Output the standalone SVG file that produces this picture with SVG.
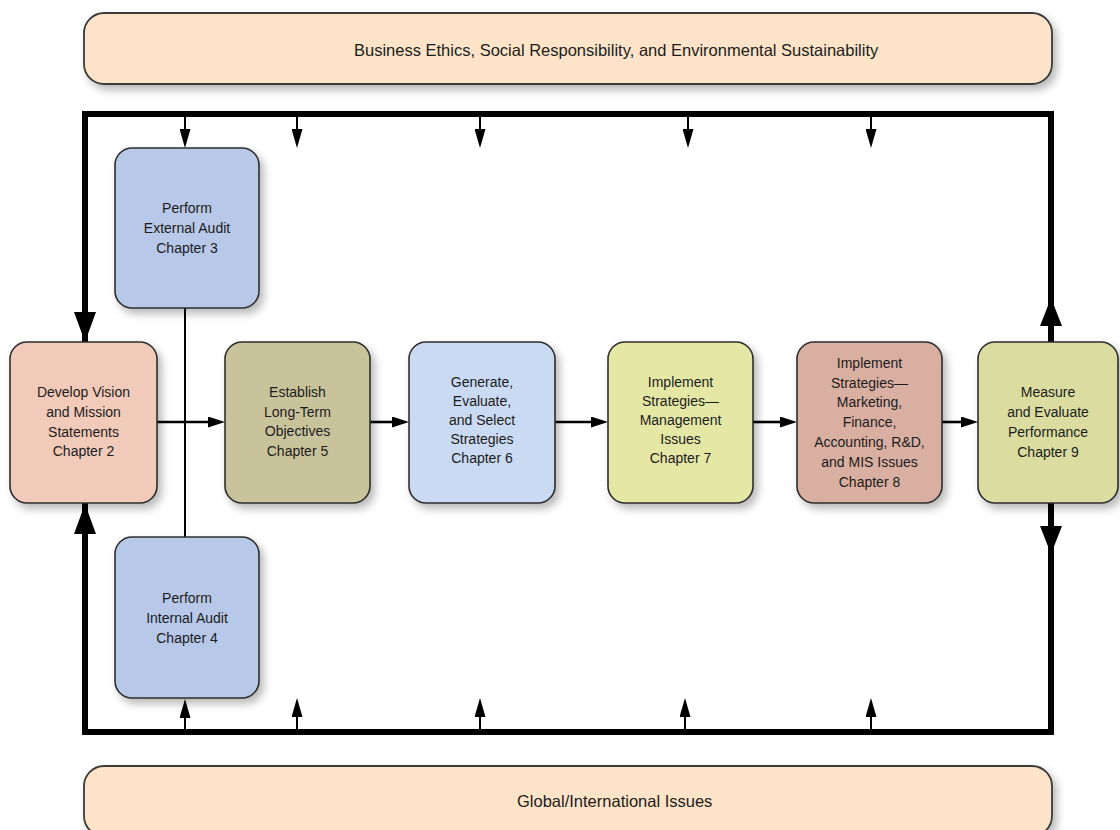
<svg xmlns="http://www.w3.org/2000/svg" width="1120" height="830" viewBox="0 0 1120 830">
<style>
.box{stroke:#2e2e2e;stroke-width:1.6;filter:url(#sh)}
.banner{fill:#FDE3C7;stroke:#3a3a3a;stroke-width:1.8;filter:url(#sh)}
.t{font-family:"Liberation Sans",Arial,sans-serif;font-size:14px;fill:#1c1c1c;text-anchor:middle}
.bt{font-family:"Liberation Sans",Arial,sans-serif;font-size:16.5px;fill:#1c1c1c}
.frame{fill:none;stroke:#000;stroke-width:6;stroke-linejoin:miter;stroke-linecap:square}
.sm{fill:none;stroke:#000;stroke-width:2}
.flow{fill:none;stroke:#000;stroke-width:2.6}
.aud{fill:none;stroke:#000;stroke-width:2}
.big{fill:#000}
</style>
<defs>
<filter id="sh" x="-10%" y="-10%" width="125%" height="130%">
<feDropShadow dx="4" dy="5" stdDeviation="4" flood-color="#000" flood-opacity="0.28"/>
</filter>
<marker id="ms" markerUnits="userSpaceOnUse" markerWidth="19" markerHeight="11" viewBox="0 0 19 11" refX="0" refY="5.5" orient="auto">
<path d="M0,0 L19,5.5 L0,11 Z" fill="#000"/>
</marker>
<marker id="mf" markerUnits="userSpaceOnUse" markerWidth="17" markerHeight="11" viewBox="0 0 17 11" refX="0" refY="5.5" orient="auto">
<path d="M0,0 L17,5.5 L0,11 Z" fill="#000"/>
</marker>
</defs>
<rect width="1120" height="830" fill="#fff"/>

<g id="banner-top">
<rect class="banner" x="84" y="13" width="968" height="71" rx="20"/>
<text class="bt" x="354" y="56">Business Ethics, Social Responsibility, and Environmental Sustainability</text>
</g>
<g id="banner-bottom">
<rect class="banner" x="84" y="766" width="968" height="70" rx="20"/>
<text class="bt" x="517" y="807">Global/International Issues</text>
</g>

<g id="connectors">
<path class="frame" d="M85,341 V114 H1051 V342"/>
<path class="frame" d="M85,504 V732 H1051 V503"/>
<polygon class="big" points="74,312 96,312 85,342"/>
<polygon class="big" points="74,534 96,534 85,504"/>
<polygon class="big" points="1040,326 1062,326 1051,298"/>
<polygon class="big" points="1040,526 1062,526 1051,554"/>
<path class="sm" d="M185,115 V129" marker-end="url(#ms)"/>
<path class="sm" d="M297,115 V129" marker-end="url(#ms)"/>
<path class="sm" d="M480,115 V129" marker-end="url(#ms)"/>
<path class="sm" d="M688,115 V129" marker-end="url(#ms)"/>
<path class="sm" d="M871,115 V129" marker-end="url(#ms)"/>
<path class="sm" d="M185,731 V718" marker-end="url(#ms)"/>
<path class="sm" d="M297,731 V717" marker-end="url(#ms)"/>
<path class="sm" d="M480,731 V717" marker-end="url(#ms)"/>
<path class="sm" d="M685,731 V717" marker-end="url(#ms)"/>
<path class="sm" d="M871,731 V717" marker-end="url(#ms)"/>
<path class="aud" d="M185,308 V537"/>
<path class="flow" d="M157,422 H208" marker-end="url(#mf)"/>
<path class="flow" d="M370,422 H392" marker-end="url(#mf)"/>
<path class="flow" d="M555,422 H591" marker-end="url(#mf)"/>
<path class="flow" d="M753,422 H780" marker-end="url(#mf)"/>
<path class="flow" d="M942,422 H961" marker-end="url(#mf)"/>
</g>

<g id="external-audit">
<rect class="box" x="115" y="148" width="144" height="160" rx="17" fill="#B7C8E8"/>
<text class="t"><tspan x="187" y="213">Perform</tspan><tspan x="187" y="233">External Audit</tspan><tspan x="187" y="253">Chapter 3</tspan></text>
</g>
<g id="internal-audit">
<rect class="box" x="115" y="537" width="144" height="161" rx="17" fill="#B7C8E8"/>
<text class="t"><tspan x="187" y="603">Perform</tspan><tspan x="187" y="623">Internal Audit</tspan><tspan x="187" y="643">Chapter 4</tspan></text>
</g>
<g id="develop-vision">
<rect class="box" x="10" y="342" width="147" height="161" rx="17" fill="#F2CAB9"/>
<text class="t"><tspan x="83.5" y="397">Develop Vision</tspan><tspan x="83.5" y="417">and Mission</tspan><tspan x="83.5" y="437">Statements</tspan><tspan x="83.5" y="456">Chapter 2</tspan></text>
</g>
<g id="establish-objectives">
<rect class="box" x="225" y="342" width="145" height="161" rx="17" fill="#C9C39C"/>
<text class="t"><tspan x="297.5" y="397">Establish</tspan><tspan x="297.5" y="417">Long-Term</tspan><tspan x="297.5" y="436">Objectives</tspan><tspan x="297.5" y="456">Chapter 5</tspan></text>
</g>
<g id="generate-strategies">
<rect class="box" x="409" y="342" width="146" height="161" rx="17" fill="#C9DAF2"/>
<text class="t"><tspan x="482" y="387">Generate,</tspan><tspan x="482" y="406">Evaluate,</tspan><tspan x="482" y="425">and Select</tspan><tspan x="482" y="444">Strategies</tspan><tspan x="482" y="463">Chapter 6</tspan></text>
</g>
<g id="implement-management">
<rect class="box" x="608" y="342" width="145" height="161" rx="17" fill="#E5E7A5"/>
<text class="t"><tspan x="680.5" y="387">Implement</tspan><tspan x="680.5" y="406">Strategies—</tspan><tspan x="680.5" y="425">Management</tspan><tspan x="680.5" y="444">Issues</tspan><tspan x="680.5" y="463">Chapter 7</tspan></text>
</g>
<g id="implement-marketing">
<rect class="box" x="797" y="342" width="145" height="161" rx="17" fill="#D9AFA2"/>
<text class="t"><tspan x="869.5" y="368">Implement</tspan><tspan x="869.5" y="388">Strategies—</tspan><tspan x="869.5" y="407">Marketing,</tspan><tspan x="869.5" y="427">Finance,</tspan><tspan x="869.5" y="447">Accounting, R&amp;D,</tspan><tspan x="869.5" y="467">and MIS Issues</tspan><tspan x="869.5" y="487">Chapter 8</tspan></text>
</g>
<g id="measure-performance">
<rect class="box" x="978" y="342" width="140" height="161" rx="17" fill="#DADD9F"/>
<text class="t"><tspan x="1048" y="397">Measure</tspan><tspan x="1048" y="417">and Evaluate</tspan><tspan x="1048" y="437">Performance</tspan><tspan x="1048" y="457">Chapter 9</tspan></text>
</g>
</svg>
